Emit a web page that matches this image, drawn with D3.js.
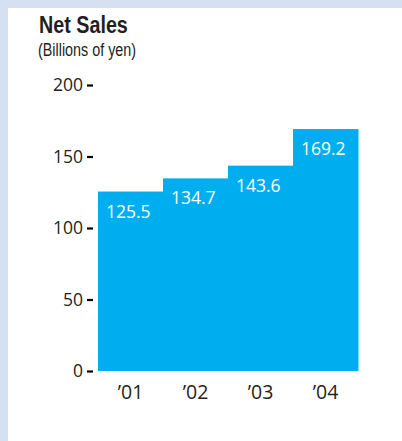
<!DOCTYPE html>
<html>
<head>
<meta charset="utf-8">
<script src="https://cdn.jsdelivr.net/npm/d3@7"></script>
<style>
  body { margin: 0; background: #ffffff; }
</style>
</head>
<body>
<div id="chart"></div>
<script>
// data
var years = ["\u201901", "\u201902", "\u201903", "\u201904"];
var sales = [125.5, 134.7, 143.6, 169.2];
var yTicks = [0, 50, 100, 150, 200];

var width = 402, height = 441;

let svg = d3.select("#chart")
    .append("svg")
    .attr("width", width)
    .attr("height", height);

// light blue frame on the top and left
svg.append("rect")
    .attr("x", 0).attr("y", 0)
    .attr("width", width).attr("height", height)
    .attr("fill", "#d5e0f1");
svg.append("rect")
    .attr("x", 8).attr("y", 8)
    .attr("width", width - 8).attr("height", height - 8)
    .attr("fill", "#ffffff");

// title, squeezed to look like a condensed face
svg.append("text")
    .attr("transform", "translate(39,33) scale(0.84,1)")
    .style("font-family", "'Liberation Sans', Arial, sans-serif")
    .style("font-weight", "bold")
    .style("font-size", "23.5px")
    .style("fill", "#231f20")
    .text("Net Sales");

svg.append("text")
    .attr("transform", "translate(38,55.5) scale(0.82,1)")
    .style("font-family", "'Liberation Sans', Arial, sans-serif")
    .style("font-size", "17.5px")
    .style("fill", "#231f20")
    .text("(Billions of yen)");

let x = d3.scaleBand()
    .domain(years)
    .range([98, 358])
    .padding(0);

let y = d3.scaleLinear()
    .domain([0, 200])
    .range([371, 85]);

// y axis: labels with a short dash after them
let yAxis = svg.append("g")
    .attr("transform", "translate(93,0)")
    .call(d3.axisLeft(y).tickValues(yTicks).tickSize(6).tickPadding(4));
yAxis.select(".domain").remove();
yAxis.selectAll(".tick line")
    .attr("stroke", "#000")
    .attr("stroke-width", 2.2);
yAxis.selectAll(".tick text")
    .style("font-family", "'Open Sans', sans-serif")
    .style("font-size", "17.5px")
    .style("fill", "#231f20");

// bars
svg.append("g").selectAll("rect")
    .data(sales)
    .enter()
    .append("rect")
    .attr("x", (d, i) => x(years[i]))
    .attr("y", d => y(d))
    .attr("width", x.bandwidth() + 0.5)
    .attr("height", d => y(0) - y(d))
    .attr("fill", "#00aeef");

// value labels inside bars
svg.append("g").selectAll("text")
    .data(sales)
    .enter()
    .append("text")
    .attr("x", (d, i) => x(years[i]) + 8)
    .attr("y", d => y(d) + 26)
    .style("font-family", "'Open Sans', sans-serif")
    .style("font-size", "17.5px")
    .style("fill", "#ffffff")
    .text(d => d.toFixed(1));

// x axis labels
let xAxis = svg.append("g")
    .attr("transform", "translate(0,371)")
    .call(d3.axisBottom(x).tickSize(0).tickPadding(14));
xAxis.select(".domain").remove();
xAxis.selectAll(".tick text")
    .style("font-family", "'Open Sans', sans-serif")
    .style("font-size", "19.5px")
    .style("fill", "#231f20");
</script>
</body>
</html>
